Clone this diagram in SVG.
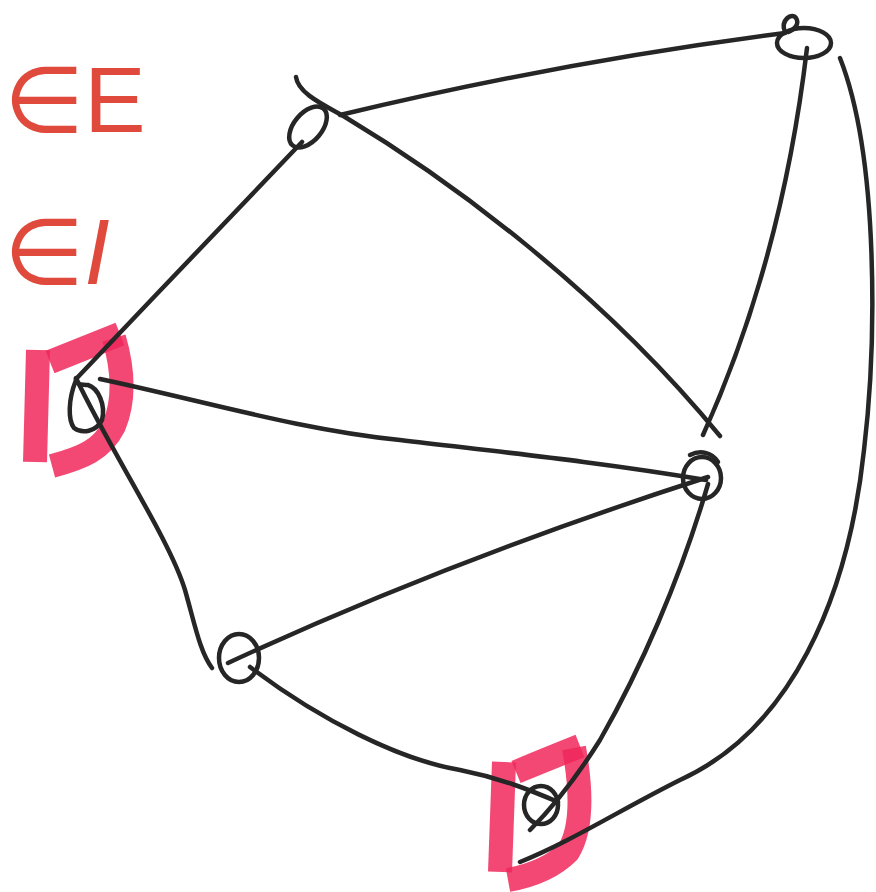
<svg xmlns="http://www.w3.org/2000/svg" width="876" height="892" viewBox="0 0 876 892">
<style>
.e{fill:none;stroke:#262626;stroke-width:4.5;stroke-linecap:round;stroke-linejoin:round}
.n{fill:none;stroke:#262626;stroke-width:4.5;stroke-linecap:round}
.hl{fill:none;stroke:#f0285a;stroke-opacity:0.85;stroke-width:24;stroke-linecap:butt;stroke-linejoin:round}
.lbl{font-family:"Liberation Sans","DejaVu Sans",sans-serif;font-size:92px;fill:#e04a3c}
</style>
<rect width="876" height="892" fill="#ffffff"/>
<g id="labels">
<text class="lbl" x="4" y="132">∈E</text>
<text class="lbl" x="4" y="284" font-style="italic">∈I</text>
</g>
<g id="highlights">
<path class="hl" d="M38,350 L35,462"/>
<path class="hl" d="M50,362 Q90,346 120,334"/>
<path class="hl" d="M114,338 C124,372 124,402 114,426 C102,450 82,458 52,466"/>
<path class="hl" d="M504,762 L500,872"/>
<path class="hl" d="M516,772 Q550,758 580,746"/>
<path class="hl" d="M574,748 C582,792 582,830 568,852 C552,868 530,876 508,880"/>
</g>
<g id="connectors">
<path class="e" d="M296,77 C298,93 322,104 345,117 C450,180 600,290 720,436"/>
<path class="e" d="M340,115 Q560,62 785,33"/>
<path class="e" d="M807,48 Q782,260 703,435"/>
<path class="e" d="M840,58 C880,160 876,350 864,450 C848,600 790,730 680,780 C620,810 570,842 520,862"/>
<path class="e" d="M302,142 L153,298 L76,379"/>
<path class="e" d="M76,378 C110,450 170,540 185,590 C195,625 200,652 212,668"/>
<path class="e" d="M100,379 C200,400 300,430 400,440 C500,452 600,462 706,480"/>
<path class="e" d="M228,663 Q450,560 708,477"/>
<path class="e" d="M250,667 C320,720 400,760 460,770 C500,778 530,790 558,802"/>
<path class="e" d="M708,484 C680,580 640,670 600,740 C575,780 555,805 530,830"/>
</g>
<g id="node-a"><ellipse class="n" cx="308" cy="127" rx="24" ry="14" transform="rotate(-50 308 127)"/></g>
<g id="node-b"><ellipse class="n" cx="804" cy="43" rx="27" ry="15"/><path class="n" d="M785,32 C780,20 792,12 796,18 C800,24 794,30 788,32"/></g>
<g id="node-c"><path class="n" d="M76,380 C68,400 68,420 74,428 C82,434 96,432 102,420 C106,405 98,388 88,385 C82,384 78,386 76,380"/></g>
<g id="node-d"><ellipse class="n" cx="702" cy="478" rx="19" ry="21"/><path class="n" d="M690,455 C700,450 712,452 718,462"/></g>
<g id="node-e"><ellipse class="n" cx="239" cy="658" rx="20" ry="24"/></g>
<g id="node-f"><ellipse class="n" cx="541" cy="805" rx="17" ry="19"/></g>
</svg>
